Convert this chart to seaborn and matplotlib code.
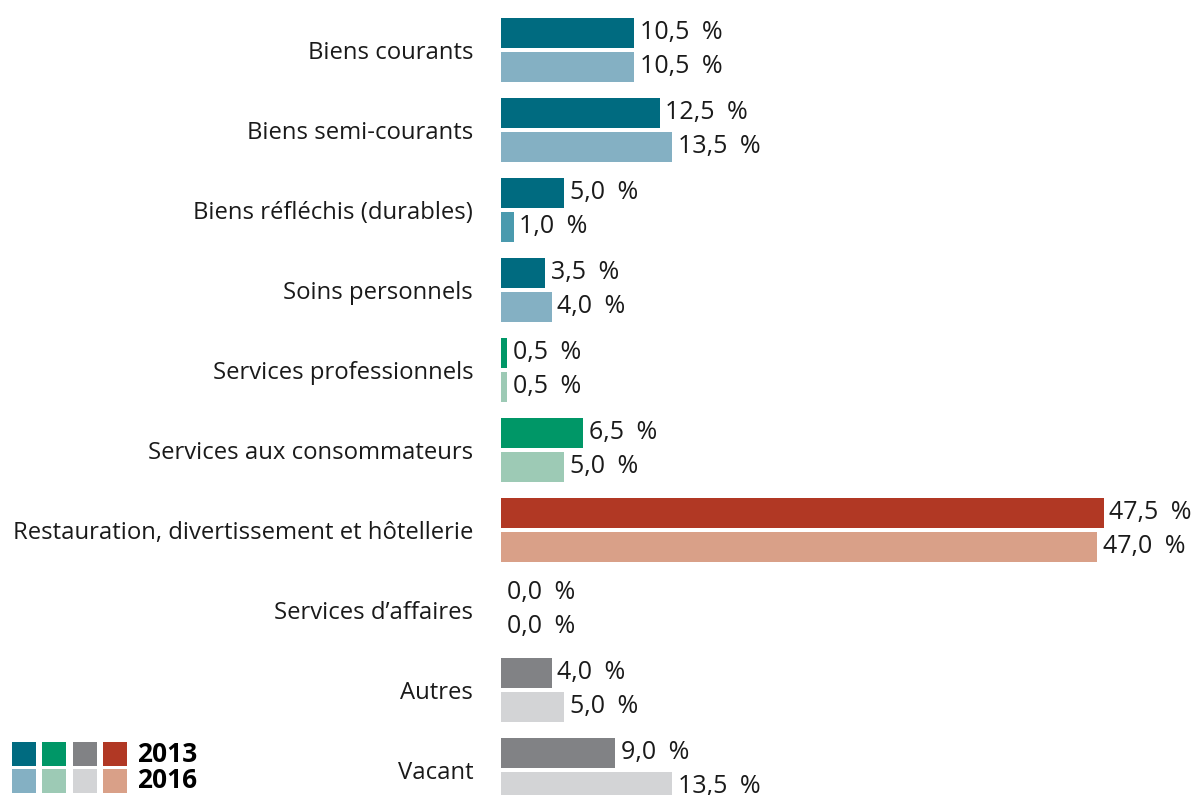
import matplotlib
matplotlib.use("Agg")
import matplotlib.pyplot as plt
import seaborn as sns
import pandas as pd
from matplotlib.patches import Rectangle

categories = ["Biens courants", "Biens semi-courants", "Biens réfléchis (durables)",
              "Soins personnels", "Services professionnels", "Services aux consommateurs",
              "Restauration, divertissement et hôtellerie", "Services d\u2019affaires",
              "Autres", "Vacant"]
years = ["2013", "2016"]
values_2013 = [10.5, 12.5, 5.0, 3.5, 0.5, 6.5, 47.5, 0.0, 4.0, 9.0]
values_2016 = [10.5, 13.5, 1.0, 4.0, 0.5, 5.0, 47.0, 0.0, 5.0, 13.5]

colors_2013 = ["#006B80", "#006B80", "#006B80", "#006B80", "#009767", "#009767",
               "#B13824", "#B13824", "#818285", "#818285"]
colors_2016 = ["#84B0C3", "#84B0C3", "#4A9AAE", "#84B0C3", "#9DCAB5", "#9DCAB5",
               "#D9A088", "#D9A088", "#D3D4D6", "#D3D4D6"]
legend_dark = ["#006B80", "#009767", "#818285", "#B13824"]
legend_light = ["#84B0C3", "#9DCAB5", "#D3D4D6", "#D9A088"]

df = pd.DataFrame({
    "cat": categories * 2,
    "year": [years[0]] * len(categories) + [years[1]] * len(categories),
    "val": values_2013 + values_2016,
})

sns.set_theme(style="white")
plt.rcParams["font.family"] = ["Open Sans", "DejaVu Sans"]

fig = plt.figure(figsize=(12, 7.95), dpi=100)
ax = fig.add_axes([501 / 1200, 0, 1 - 501 / 1200, 1])

sns.barplot(data=df, y="cat", x="val", hue="year", orient="h", ax=ax,
            width=0.85, gap=0.1176, legend=False, order=categories, hue_order=years,
            linewidth=0)

for cont, cols in zip(ax.containers, [colors_2013, colors_2016]):
    for patch, c in zip(cont, cols):
        patch.set_facecolor(c)
        patch.set_edgecolor("none")
    ax.bar_label(cont, labels=[f"{v:.1f}\u2002%".replace(".", ",") for v in cont.datavalues],
                 padding=4, fontsize=18, color="#1a1a1a")

ax.set_xlim(0, 55.1)
ax.set_ylim(-0.625 + 795 / 80, -0.625)
ax.set_xlabel("")
ax.set_ylabel("")
ax.set_xticks([])
ax.tick_params(axis="y", length=0, pad=20, labelsize=17.2, labelcolor="#1a1a1a")
for s in ax.spines.values():
    s.set_visible(False)
ax.patch.set_alpha(0)

# legend squares
W, H = 1200, 795
xs = [12, 42, 73, 103]
for x, cd, cl in zip(xs, legend_dark, legend_light):
    fig.add_artist(Rectangle((x / W, 1 - 766 / H), 24 / W, 24 / H, transform=fig.transFigure,
                             facecolor=cd, edgecolor="none"))
    fig.add_artist(Rectangle((x / W, 1 - 793 / H), 24 / W, 24 / H, transform=fig.transFigure,
                             facecolor=cl, edgecolor="none"))
fig.text(137 / W, 1 - 755 / H, years[0], fontsize=19, fontweight="bold", va="center", ha="left",
         color="black")
fig.text(137 / W, 1 - 781 / H, years[1], fontsize=19, fontweight="bold", va="center", ha="left",
         color="black")

fig.savefig("out.png", dpi=100)
